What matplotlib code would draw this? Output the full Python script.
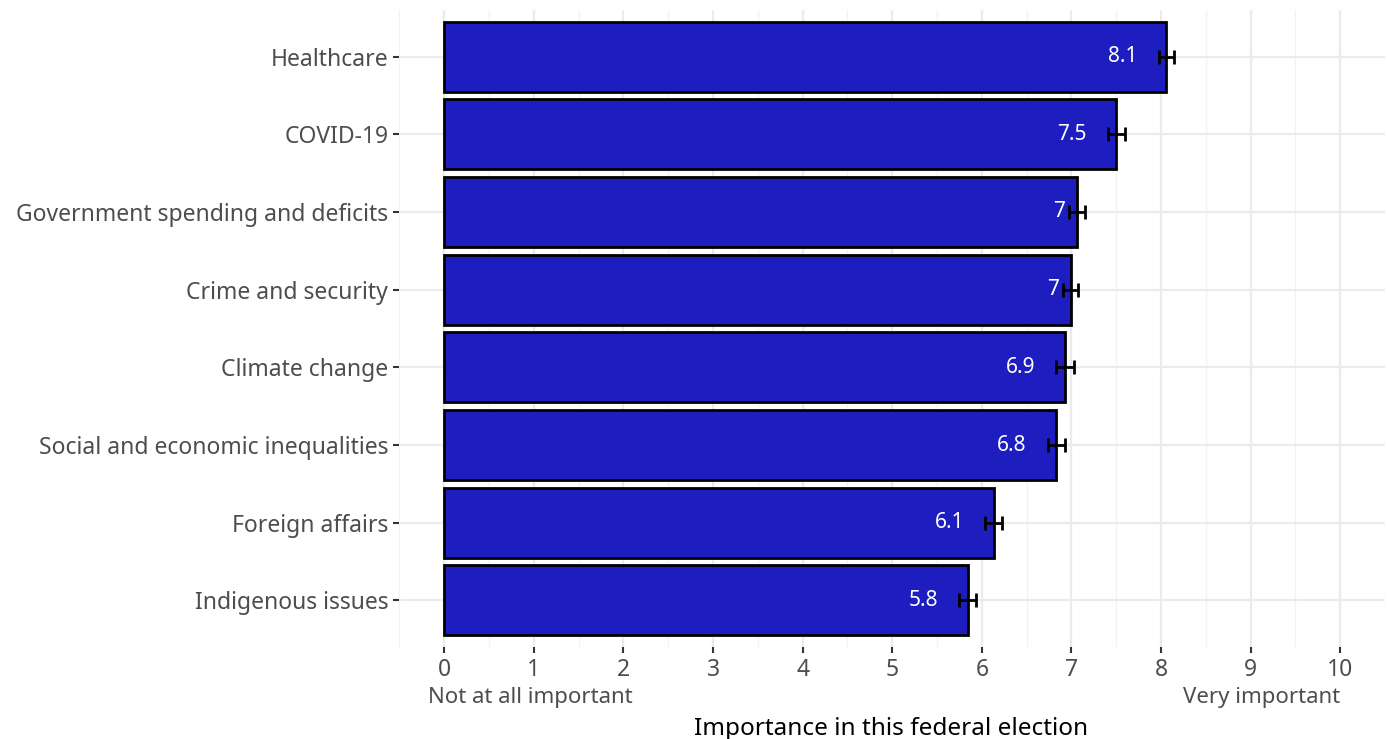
import matplotlib
matplotlib.use("Agg")
import matplotlib.pyplot as plt
import numpy as np

# issues, listed bottom to top
issues = ["Indigenous issues", "Foreign affairs", "Social and economic inequalities",
          "Climate change", "Crime and security", "Government spending and deficits",
          "COVID-19", "Healthcare"]
means = [5.84, 6.13, 6.83, 6.93, 6.99, 7.06, 7.50, 8.06]
errors = [0.10, 0.09, 0.095, 0.10, 0.08, 0.09, 0.095, 0.08]
labels = ["5.8", "6.1", "6.8", "6.9", "7", "7", "7.5", "8.1"]

plt.rcParams['font.family'] = ['Noto Sans', 'DejaVu Sans']

fig = plt.figure(figsize=(13.87, 7.39), dpi=100)
ax = fig.add_axes([0.288, 0.1245, 0.7106, 0.862])

ypos = np.arange(1, len(issues) + 1)
ax.barh(ypos, means, height=0.9, color='#1E1EC0', edgecolor='black', linewidth=2, zorder=3)
ax.errorbar(means, ypos, xerr=errors, fmt='none', ecolor='black', elinewidth=2,
            capsize=5, capthick=2, zorder=4)

ax.set_xlim(-0.5, 10.5)
ax.set_ylim(0.4, len(issues) + 0.6)
ax.set_xticks(range(0, 11))
ax.set_xticks(np.arange(-0.5, 10.6, 1), minor=True)
ax.set_yticks(ypos)
ax.set_yticklabels(issues)

for s in ax.spines.values():
    s.set_visible(False)
ax.grid(True, which='major', color='#EBEBEB', linewidth=1.6, zorder=0)
ax.grid(True, which='minor', axis='x', color='#F2F2F2', linewidth=0.9, zorder=0)
ax.set_axisbelow(True)
ax.tick_params(axis='both', which='major', labelsize=16.5, labelcolor='#4D4D4D',
               color='#333333', length=4, width=1.5, pad=4)
ax.tick_params(axis='x', which='minor', length=0)

fig.text(0.6425, 0.014, "Importance in this federal election", ha='center', va='center',
         fontsize=17.5, color='black')

ax.text(-0.18, -0.08, "Not at all important", transform=ax.get_xaxis_transform(),
        ha='left', va='center', fontsize=16, color='#4D4D4D')
ax.text(10.0, -0.08, "Very important", transform=ax.get_xaxis_transform(),
        ha='right', va='center', fontsize=16, color='#4D4D4D')

# value labels, right edge one text-width left of the bar end (hjust = 2)
fig.canvas.draw()
renderer = fig.canvas.get_renderer()
for y, m, lab in zip(ypos, means, labels):
    t = ax.text(m, y, lab, ha='right', va='center', fontsize=15, color='white', zorder=5)
    w = t.get_window_extent(renderer).width
    x_disp = ax.transData.transform((m, y))[0] - w
    t.set_x(ax.transData.inverted().transform((x_disp, 0))[0])

fig.savefig("out.png", dpi=100)
